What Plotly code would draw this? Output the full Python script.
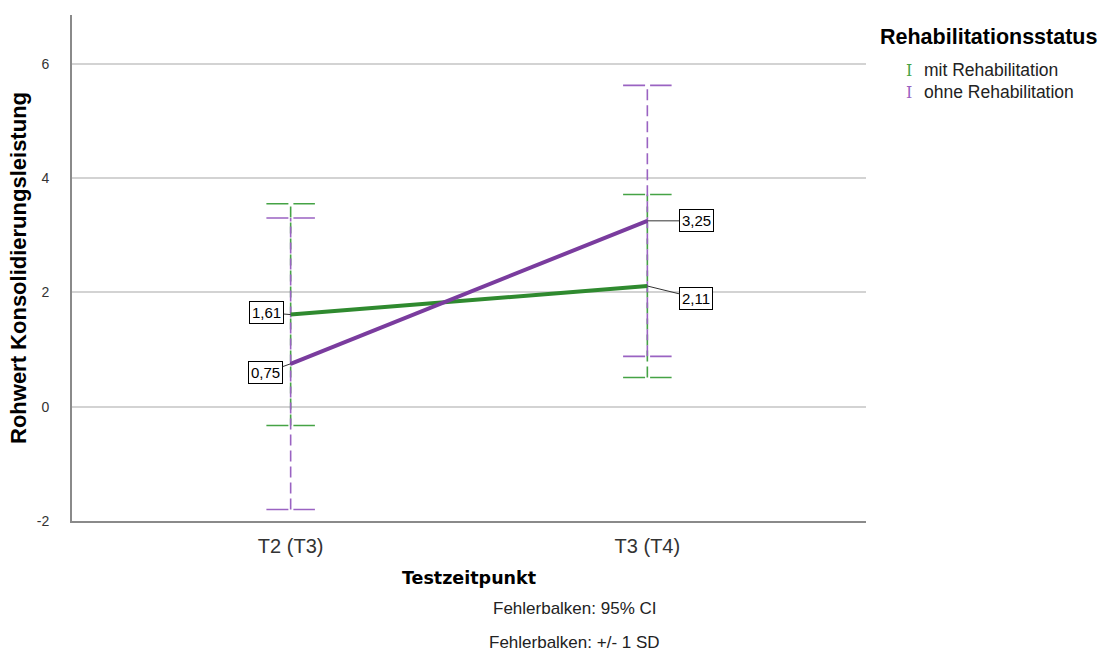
import plotly.graph_objects as go

# Testzeitpunkte und Gruppen
zeitpunkte = ["T2 (T3)", "T3 (T4)"]
gruppen = ["mit Rehabilitation", "ohne Rehabilitation"]

# Mittelwerte je Gruppe
mittel_mit = [1.61, 2.11]
mittel_ohne = [0.75, 3.25]

# Standardabweichungen (Fehlerbalken +/- 1 SD)
sd_mit = [1.94, 1.60]
sd_ohne = [2.55, 2.37]

linien_farben = ["#2f8a2f", "#7a3c9e"]
balken_farben = ["#45a345", "#9a63c2"]

y_ticks = [-2, 0, 2, 4, 6]
y_ticktext = ["-2", "0", "2", "4", "6"]

FONT = "Liberation Sans, Arial, sans-serif"
CAP = 0.068  # halbe Kappenbreite in Achseneinheiten

fig = go.Figure()

xs = list(range(len(zeitpunkte)))
for mittel, sd, lf, bf in [(mittel_mit, sd_mit, linien_farben[0], balken_farben[0]),
                           (mittel_ohne, sd_ohne, linien_farben[1], balken_farben[1])]:
    for xi, m, s in zip(xs, mittel, sd):
        lo, hi = m - s, m + s
        # gestrichelter Fehlerbalken
        fig.add_trace(go.Scatter(x=[xi, xi], y=[lo, hi], mode="lines",
                                 line=dict(color=bf, width=1.6, dash="11px,5px"),
                                 showlegend=False, hoverinfo="skip"))
        # Kappen oben und unten
        for yv in (lo, hi):
            fig.add_trace(go.Scatter(x=[xi - CAP, xi + CAP], y=[yv, yv], mode="lines",
                                     line=dict(color=bf, width=1.6, dash="22px,5px"),
                                     showlegend=False, hoverinfo="skip"))

# Mittelwertlinien
for mittel, lf, name in [(mittel_mit, linien_farben[0], gruppen[0]),
                         (mittel_ohne, linien_farben[1], gruppen[1])]:
    fig.add_trace(go.Scatter(x=xs, y=mittel, mode="lines", name=name,
                             line=dict(color=lf, width=4), showlegend=False))

# Wertelabels mit Führungslinie
label_offsets = {
    (0, 0): (-24, -2), (0, 1): (-25, 9),
    (1, 0): (49, 12), (1, 1): (49, 0),
}
for gi, mittel in enumerate([mittel_mit, mittel_ohne]):
    for xi, m in zip(xs, mittel):
        ax, ay = label_offsets[(xi, gi)]
        fig.add_annotation(x=xi, y=m, text=f"{m:.2f}".replace(".", ","),
                           showarrow=True, arrowhead=0, arrowwidth=1, arrowcolor="#333",
                           ax=ax, ay=ay, bgcolor="white", bordercolor="black",
                           borderwidth=1, borderpad=2,
                           font=dict(family=FONT, size=15, color="black"))

# Legende
fig.add_annotation(xref="paper", yref="paper", x=(878 - 72) / 794, y=1.0 - (37 - 15) / 506,
                   xanchor="left", yanchor="middle", showarrow=False,
                   text="<b>Rehabilitationsstatus</b>",
                   font=dict(family=FONT, size=21.5, color="black"))
for i, (name, bf) in enumerate(zip(gruppen, balken_farben)):
    ypix = 70 + 22 * i
    yp = 1.0 - (ypix - 15) / 506
    fig.add_annotation(xref="paper", yref="paper", x=(904 - 72) / 794, y=yp,
                       xanchor="left", yanchor="middle", showarrow=False,
                       text="I", font=dict(family="DejaVu Serif", size=16, color=bf))
    fig.add_annotation(xref="paper", yref="paper", x=(922 - 72) / 794, y=yp,
                       xanchor="left", yanchor="middle", showarrow=False,
                       text=name, font=dict(family=FONT, size=17.5, color="#222"))

# Fußnoten
for text, ypix in [("Fehlerbalken: 95% CI", 608), ("Fehlerbalken: +/- 1 SD", 642)]:
    fig.add_annotation(xref="paper", yref="paper", x=(574 - 72) / 794,
                       y=-(ypix - 521) / 506, xanchor="center", yanchor="middle",
                       showarrow=False, text=text,
                       font=dict(family=FONT, size=17, color="#222"))

fig.update_layout(
    width=1106, height=654,
    margin=dict(l=72, r=240, t=15, b=133),
    paper_bgcolor="white", plot_bgcolor="white",
    font=dict(family=FONT, color="black"),
    showlegend=False,
    xaxis=dict(
        range=[-0.613, 1.613], tickmode="array", tickvals=xs, ticktext=zeitpunkte,
        showgrid=False, zeroline=False, showline=True, linecolor="#8a8a8a", linewidth=2,
        ticks="", ticklabelstandoff=6, tickfont=dict(family=FONT, size=20, color="#333"),
        title=dict(text="<b>Testzeitpunkt</b>",
                   font=dict(family="DejaVu Sans, sans-serif", size=17.5, color="black"),
                   standoff=16),
    ),
    yaxis=dict(
        range=[-2, 6.85], tickmode="array", tickvals=y_ticks, ticktext=y_ticktext,
        showgrid=True, gridcolor="#d3d3d3", gridwidth=1.5, zeroline=False,
        showline=True, linecolor="#8a8a8a", linewidth=2, ticks="",
        ticklabelstandoff=18, tickfont=dict(family=FONT, size=14, color="#333"),
        title=dict(text="<b>Rohwert Konsolidierungsleistung</b>",
                   font=dict(family=FONT, size=22, color="black"), standoff=4),
    ),
)

fig.write_html("out.html")
